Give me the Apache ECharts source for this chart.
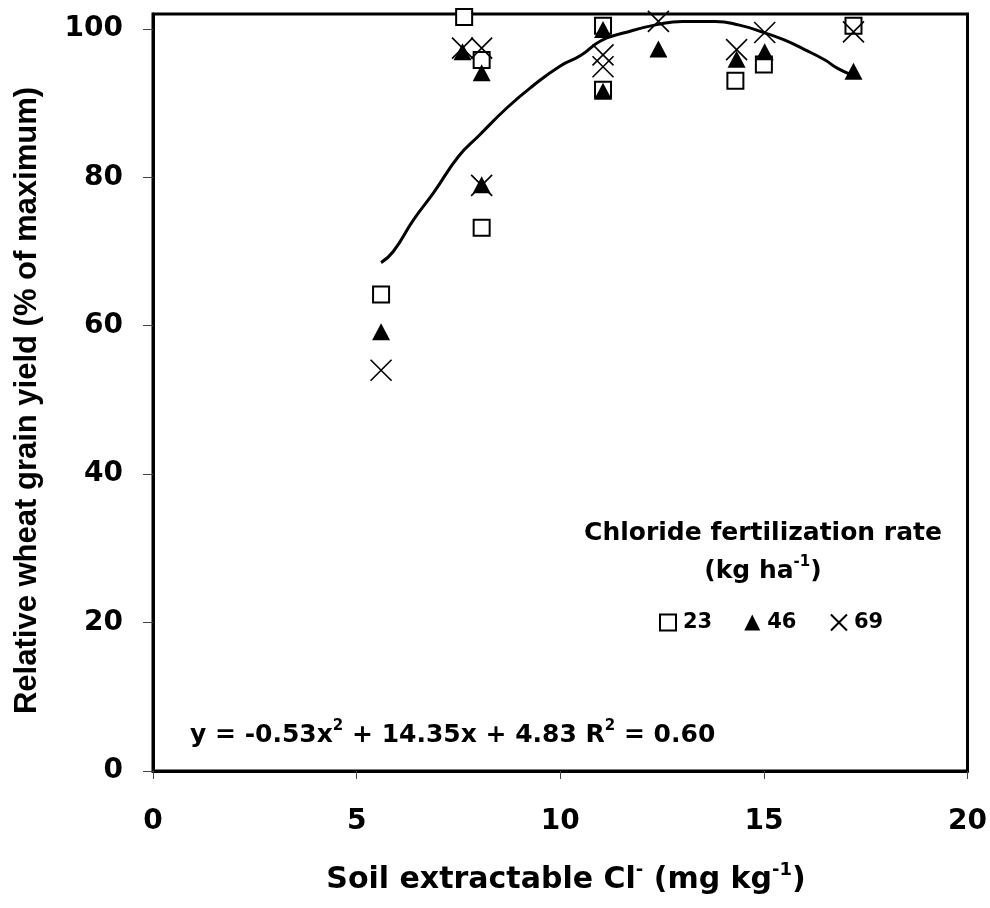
<!DOCTYPE html>
<html>
<head>
<meta charset="utf-8">
<script src="https://cdn.jsdelivr.net/npm/echarts@6/dist/echarts.min.js"></script>
<style>
html,body{margin:0;padding:0;background:#fff;}
#chart{width:990px;height:908px;}
</style>
</head>
<body>
<div id="chart"></div>
<script>
// ---- data ----
var rate23 = [[5.6,64.2],[7.64,101.6],[8.07,95.8],[8.07,73.2],[11.05,100.4],[11.05,91.8],[14.3,93.0],[15.0,95.2],[17.2,100.4]];
var rate46 = [[5.6,59.2],[7.6,96.9],[8.07,94.1],[8.07,79.0],[11.05,99.9],[11.05,91.6],[12.41,97.3],[14.33,95.9],[15.02,96.9],[17.2,94.3]];
var rate69 = [[5.6,54.0],[7.6,97.4],[8.07,97.4],[8.07,78.9],[11.05,96.5],[11.05,94.9],[12.41,101.0],[14.33,97.2],[15.02,99.5],[17.2,99.6]];
var trendCurve = [[5.6,68.5],[5.9,70.0],[6.4,74.3],[6.9,78.0],[7.5,82.8],[8.0,85.6],[8.7,89.4],[9.3,92.2],[10.0,95.0],[10.5,96.4],[11.0,98.4],[11.6,99.5],[12.4,100.6],[13.0,101.0],[13.8,101.0],[14.4,100.5],[15.0,99.5],[15.5,98.5],[16.0,97.2],[16.5,95.8],[16.8,94.7],[17.15,93.8]];
var xTicks = [0,5,10,15,20];
var yTicks = [0,20,40,60,80,100];
var seriesNames = ['23','46','69'];

var FONT = 'DejaVu Sans';
var ARIAL = 'Liberation Sans';

var chart = echarts.init(document.getElementById('chart'), null, {renderer:'canvas'});
var supStyle = function(size){ return {fontFamily:FONT,fontWeight:'bold',fontSize:size,verticalAlign:'top',lineHeight:Math.round(size*1.1),color:'#000'}; };

var option = {
  animation:false,
  backgroundColor:'#fff',
  grid:{left:153,right:21,top:14,bottom:137,show:true,borderColor:'#000',borderWidth:3,backgroundColor:'transparent'},
  title:[
    {text:'{a|Soil extractable Cl}{s|-}{a| (mg kg}{s|-1}{a|)}', left:561, top:856, textAlign:'center',
     textStyle:{rich:{a:{fontFamily:FONT,fontWeight:'bold',fontSize:30,lineHeight:38,color:'#000'}, s:supStyle(18)}}},
    {text:'Chloride fertilization rate', left:758, top:516, textAlign:'center',
     textStyle:{fontFamily:FONT,fontWeight:'bold',fontSize:25,color:'#000'}},
    {text:'{a|(kg ha}{s|-1}{a|)}', left:758, top:550, textAlign:'center',
     textStyle:{rich:{a:{fontFamily:FONT,fontWeight:'bold',fontSize:25,lineHeight:32,color:'#000'}, s:supStyle(15)}}},
    {text:'{a|y = -0.53x}{s|2}{a| + 14.35x + 4.83 R}{s|2}{a| = 0.60}', left:185, top:714,
     textStyle:{rich:{a:{fontFamily:FONT,fontWeight:'bold',fontSize:25,lineHeight:32,color:'#000'}, s:supStyle(15)}}}
  ],
  legend:{
    data:seriesNames, left:654, top:607, orient:'horizontal',
    itemWidth:16, itemHeight:16, itemGap:32,
    textStyle:{fontFamily:FONT,fontWeight:'bold',fontSize:21,color:'#000',padding:[0,0,0,2]},
    selectedMode:false
  },
  xAxis:{
    type:'value', min:0, max:20, interval:5,
    axisLine:{show:true,onZero:false,lineStyle:{color:'#000',width:3}},
    axisTick:{show:true,length:8,lineStyle:{color:'#444',width:1}},
    axisLabel:{margin:37,fontFamily:FONT,fontWeight:'bold',fontSize:28,color:'#000',
      customValues:xTicks, showMinLabel:true, showMaxLabel:true},
    splitLine:{show:false}
  },
  yAxis:{
    type:'value', min:0, max:102, interval:20,
    name:'Relative wheat grain yield (% of maximum)', nameLocation:'middle', nameGap:110, nameRotate:90,
    nameTextStyle:{fontFamily:ARIAL,fontWeight:'bold',fontSize:31,color:'#000',padding:[0,16,0,0]},
    axisLine:{show:true,onZero:false,lineStyle:{color:'#000',width:3}},
    axisTick:{show:true,length:10,lineStyle:{color:'#444',width:1},customValues:yTicks},
    axisLabel:{margin:30,fontFamily:FONT,fontWeight:'bold',fontSize:28,color:'#000',customValues:yTicks},
    splitLine:{show:false}
  },
  series:[
    {name:'trend', type:'line', data:trendCurve, smooth:true, showSymbol:false, symbol:'none',
     lineStyle:{color:'#000',width:3}, z:2, silent:true},
    {name:'23', type:'scatter', data:rate23, symbol:'rect', symbolSize:16,
     itemStyle:{color:'#fff',borderColor:'#000',borderWidth:2,opacity:1}, z:3},
    {name:'46', type:'scatter', data:rate46, symbol:'triangle', symbolSize:[18,17],
     itemStyle:{color:'#000',opacity:1}, z:4},
    {name:'69', type:'scatter', data:rate69, symbol:'path://M0,0L20,20M20,0L0,20', symbolSize:21,
     itemStyle:{color:'none',borderColor:'#000',borderWidth:1.6,opacity:1}, z:5}
  ]
};
chart.setOption(option);
</script>
</body>
</html>
